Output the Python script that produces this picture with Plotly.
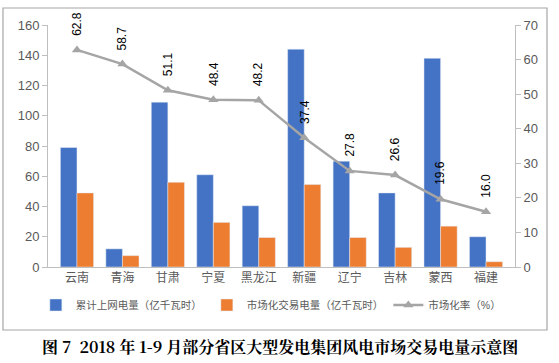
import plotly.graph_objects as go

categories = ["云南", "青海", "甘肃", "宁夏", "黑龙江", "新疆", "辽宁", "吉林", "蒙西", "福建"]
grid_power = [79, 12, 109, 61, 40.5, 144, 70, 49, 138, 20]
market_power = [49, 7.5, 56, 29.5, 19.5, 54.5, 19.5, 13, 27, 3.5]
market_rate = [62.8, 58.7, 51.1, 48.4, 48.2, 37.4, 27.8, 26.6, 19.6, 16.0]
rate_labels = ["62.8", "58.7", "51.1", "48.4", "48.2", "37.4", "27.8", "26.6", "19.6", "16.0"]

name_grid = "累计上网电量（亿千瓦时）"
name_market = "市场化交易电量（亿千瓦时）"
name_rate = "市场化率（%）"
caption = "图 7  2018 年 1-9 月部分省区大型发电集团风电市场交易电量示意图"

font_family = "Liberation Sans, Noto Sans CJK SC, sans-serif"
tick_color = "#595959"

fig = go.Figure()
fig.add_trace(go.Bar(x=categories, y=grid_power, name=name_grid,
                     marker_color="#4472C4"))
fig.add_trace(go.Bar(x=categories, y=market_power, name=name_market,
                     marker_color="#ED7D31"))
fig.add_trace(go.Scatter(x=categories, y=market_rate, name=name_rate, yaxis="y2",
                         mode="lines+markers",
                         line=dict(color="#A5A5A5", width=2.5),
                         marker=dict(symbol="triangle-up", size=9, color="#A5A5A5")))

for c, v, t in zip(categories, market_rate, rate_labels):
    fig.add_annotation(x=c, y=v, yref="y2", text=t, textangle=-90,
                       showarrow=False, yanchor="bottom", xanchor="center",
                       yshift=12, font=dict(size=12, color="#000000", family=font_family))

fig.add_annotation(x=0.497, y=-0.33, xref="paper", yref="paper", text="<b>" + caption + "</b>",
                   showarrow=False, xanchor="center", yanchor="middle",
                   font=dict(size=16, color="#000000", family="Noto Serif CJK SC, Noto Sans CJK SC, serif"))

# frame around the chart area
fig.add_shape(type="rect", xref="paper", yref="paper",
              x0=-0.0964, x1=1.0685, y0=-0.2603, y1=1.0702,
              line=dict(color="#A6A6A6", width=1.2), fillcolor="rgba(0,0,0,0)", layer="above")

fig.update_layout(
    width=559, height=363,
    margin=dict(l=48, r=44, t=25, b=96, autoexpand=False),
    paper_bgcolor="white", plot_bgcolor="white",
    barmode="group", bargap=0.27, bargroupgap=0,
    font=dict(family=font_family, color=tick_color, size=12),
    showlegend=True,
    legend=dict(orientation="h", x=-0.026, xanchor="left", y=-0.157, yanchor="middle",
                font=dict(size=10.5, color=tick_color), itemwidth=30,
                traceorder="normal", tracegroupgap=0),
    xaxis=dict(showline=True, linecolor="#BFBFBF", ticks="", showgrid=False,
               tickfont=dict(size=12, color=tick_color, family="Noto Sans CJK SC, sans-serif")),
    yaxis=dict(range=[0, 160], dtick=20, showline=True, linecolor="#BFBFBF",
               ticks="outside", ticklen=5, tickcolor="#BFBFBF", showgrid=False,
               zeroline=False, tickfont=dict(size=13, color=tick_color)),
    yaxis2=dict(range=[0, 70], dtick=10, overlaying="y", side="right", showline=True,
                linecolor="#BFBFBF", ticks="outside", ticklen=5, tickcolor="#BFBFBF",
                showgrid=False, zeroline=False, tickfont=dict(size=13, color=tick_color)),
)

fig.write_html("out.html", config={"displayModeBar": False},
               post_script="document.body.style.margin='0';")
